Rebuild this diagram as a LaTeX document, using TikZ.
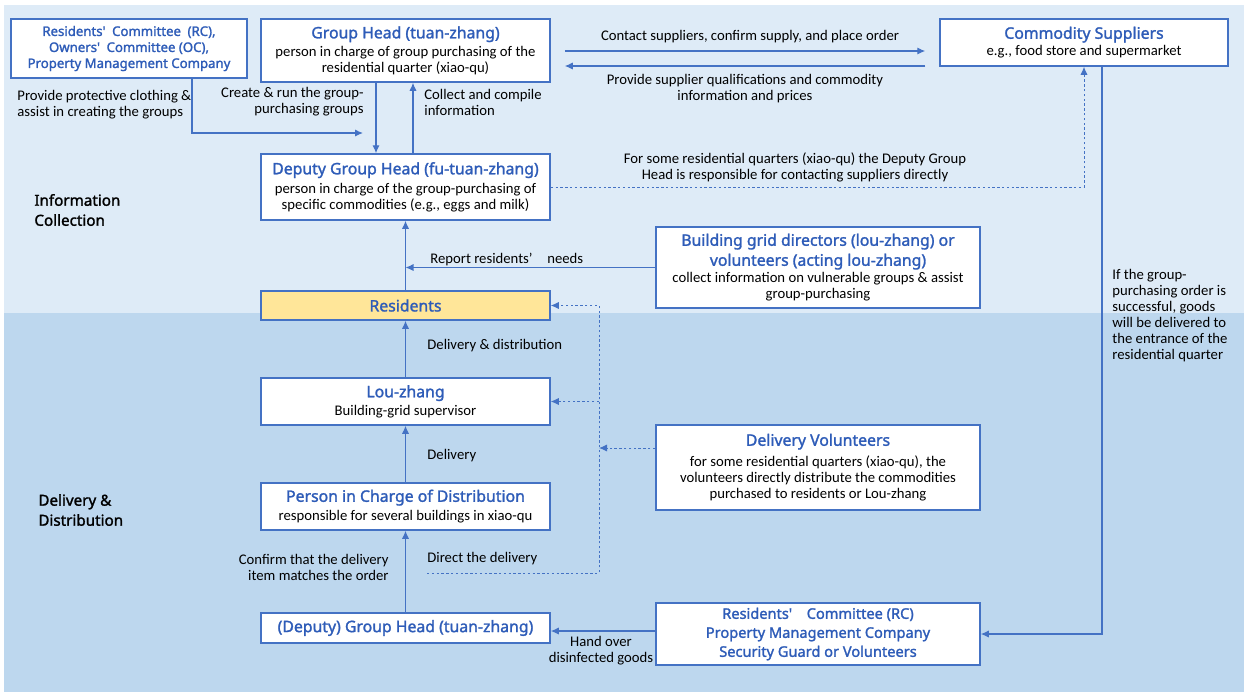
\documentclass[tikz,border=0pt]{standalone}
\usepackage{fontspec}
\setmainfont{Carlito}
\newfontfamily\headfont{Noto Sans}[BoldFont={Noto Sans}, BoldFeatures={FakeBold=1.6}]
\usetikzlibrary{arrows.meta,positioning,calc}

\definecolor{bandtop}{HTML}{DEEBF7}
\definecolor{bandlow}{HTML}{BDD7EE}
\definecolor{boxblue}{HTML}{4472C4}
\definecolor{titleblue}{HTML}{2E5CB8}
\definecolor{paleyellow}{HTML}{FFE699}

\newcommand{\hd}[1][7.9]{\headfont\bfseries\fontsize{#1}{9.5}\selectfont\color{titleblue}}
\newcommand{\bodytext}{\fontsize{7.35}{8}\selectfont}

\tikzset{
  box/.style={draw=boxblue, line width=0.75pt, fill=white, align=center, inner sep=1pt, font=\bodytext},
  flow/.style={draw=boxblue, line width=0.6pt, -{Latex[length=4pt,width=3.6pt]}},
  hint/.style={flow, line width=0.5pt, dash pattern=on 1.2pt off 1.2pt},
  note/.style={font=\bodytext, inner sep=0pt},
  stage/.style={font=\headfont\bfseries\fontsize{7.6}{10}\selectfont, align=left, inner sep=0pt},
}

\begin{document}
\begin{tikzpicture}[x=0.5pt, y=-0.5pt]
      \useasboundingbox (0,0) rectangle (1248,698);
      \fill[bandtop] (4,5) rectangle (1244,313);
      \fill[bandlow] (4,313) rectangle (1244,692);

      % information collection
      \node[box, minimum width=118pt, minimum height=29.5pt] at (129,48.5) (rc)
        {{\hd[6.6] Residents'\enspace Committee\enspace (RC),}\\{\hd[6.6] Owners'\enspace Committee (OC),}\\{\hd[6.6] Property Management Company}};
      \node[box, minimum width=144.5pt, minimum height=31.5pt] at (405.5,50.5) (gh)
        {{\hd Group Head (tuan-zhang)}\\[1pt]person in charge of group purchasing of the\\residential quarter (xiao-qu)};
      \node[box, minimum width=144pt, minimum height=23.5pt] at (1084,42.5) (sup)
        {{\hd Commodity Suppliers}\\[0.5pt]e.g., food store and supermarket};
      \node[box, minimum width=144.5pt, minimum height=33pt] at (405.5,187) (dgh)
        {{\hd Deputy Group Head (fu-tuan-zhang)}\\[1.5pt]person in charge of the group-purchasing of\\specific commodities (e.g., eggs and milk)};
      \node[box, fill=paleyellow, minimum width=144.5pt, minimum height=14.5pt] at (405.5,305.5) (res)
        {{\hd Residents}};
      \node[box, minimum width=162pt, minimum height=40.5pt] at (818,267.5) (bld)
        {{\hd Building grid directors (lou-zhang) or}\\[2pt]{\hd volunteers (acting lou-zhang)}\\[0.5pt]collect information on vulnerable groups \& assist\\group-purchasing};

      % delivery and distribution
      \node[box, minimum width=144.5pt, minimum height=23.5pt] at (405.5,401.5) (lou)
        {{\hd Lou-zhang}\\[1pt]Building-grid supervisor};
      \node[box, minimum width=162pt, minimum height=42.5pt] at (818,467.5) (vol)
        {{\hd Delivery Volunteers}\\[2.5pt]for some residential quarters (xiao-qu), the\\volunteers directly distribute the commodities\\purchased to residents or Lou-zhang};
      \node[box, minimum width=144.5pt, minimum height=23.5pt] at (405.5,506.5) (pic)
        {{\hd Person in Charge of Distribution}\\[1.5pt]responsible for several buildings in xiao-qu};
      \node[box, minimum width=144.5pt, minimum height=15pt] at (405.5,628) (dgh2)
        {{\hd (Deputy) Group Head (tuan-zhang)}};
      \node[box, minimum width=162pt, minimum height=31pt] at (818,634) (rc2)
        {{\hd[7.3] Residents'\enspace\enspace Committee (RC)}\\[1.5pt]{\hd[7.3] Property Management Company}\\[1.5pt]{\hd[7.3] Security Guard or Volunteers}};

      \node[stage, anchor=west] at (34,210) (stinfo) {Information\\Collection};
      \node[stage, anchor=west] at (38,510) (stdel) {Delivery \&\\Distribution};

      % connectors, top band
      \draw[flow, shorten <=7pt, shorten >=7pt] (gh.east |- 0,51) -- (sup.west |- 0,51);
      \draw[flow, shorten <=7pt, shorten >=7pt] (sup.west |- 0,66) -- (gh.east |- 0,66);
      \node[note] at (750,37) (lblorder) {Contact suppliers, confirm supply, and place order};
      \node[note, align=center] at (745,89) (lblquali) {Provide supplier qualifications and commodity\\information and prices};

      \coordinate (rcbend) at (192,133);
      \coordinate (rcend) at (363,133);
      \draw[flow] (rc.south -| rcbend) -- (rcbend) -- (rcend);
      \node[note, align=left, anchor=west] at (17,105) (lblcloth) {Provide protective clothing \&\\assist in creating the groups};

      \draw[flow] (gh.south -| 376,0) -- (dgh.north -| 376,0);
      \draw[flow] (dgh.north -| 413,0) -- (gh.south -| 413,0);
      \node[note, align=right, anchor=east] at (364,101.5) (lblcreate) {Create \& run the group-\\purchasing groups};
      \node[note, align=left, anchor=west] at (424,102) (lblcollect) {Collect and compile\\information};

      \draw[hint] (dgh.east) -| (sup.south);
      \node[note, align=center] at (795,167) (lbldirect) {For some residential quarters (xiao-qu) the Deputy Group\\Head is responsible for contacting suppliers directly};

      \draw[flow] (res.north) -- (dgh.south);
      \draw[flow] (bld.west) -- (bld.west -| res.north);
      \node[note, anchor=west] at (430,259) (lblneeds) {Report residents'\enspace\enspace needs};

      \draw[flow] (sup.south -| 1102,0) |- (rc2.east);
      \node[note, align=left, anchor=west] at (1112,316) (lblgoods) {If the group-\\purchasing order is\\successful, goods\\will be delivered to\\the entrance of the\\residential quarter};

      % connectors, bottom band
      \draw[flow] (lou.north) -- (res.south);
      \draw[flow] (pic.north) -- (lou.south);
      \draw[flow] (dgh2.north) -- (pic.south);
      \node[note, anchor=west] at (427,346) (lbldist) {Delivery \& distribution};
      \node[note, anchor=west] at (427,456) (lbldeliv) {Delivery};
      \node[note, anchor=west] at (427,559) (lbldirdel) {Direct the delivery};
      \node[note, align=right, anchor=east] at (389,567) (lblconfirm) {Confirm that the delivery\\item matches the order};

      \coordinate (dotstart) at (427,573);
      \coordinate (dotcorner) at (599,573);
      \draw[hint] (dotstart) -- (dotcorner) |- (res.east);
      \draw[hint] (dotcorner |- lou.east) -- (lou.east);
      \draw[hint] (vol.west |- 0,448) -- (dotcorner |- 0,448);

      \draw[flow] (rc2.west |- 0,631) -- (dgh2.east |- 0,631);
      \node[note, align=center] at (601,651) (lblhand) {Hand over\\disinfected goods};
    \end{tikzpicture}
\end{document}
